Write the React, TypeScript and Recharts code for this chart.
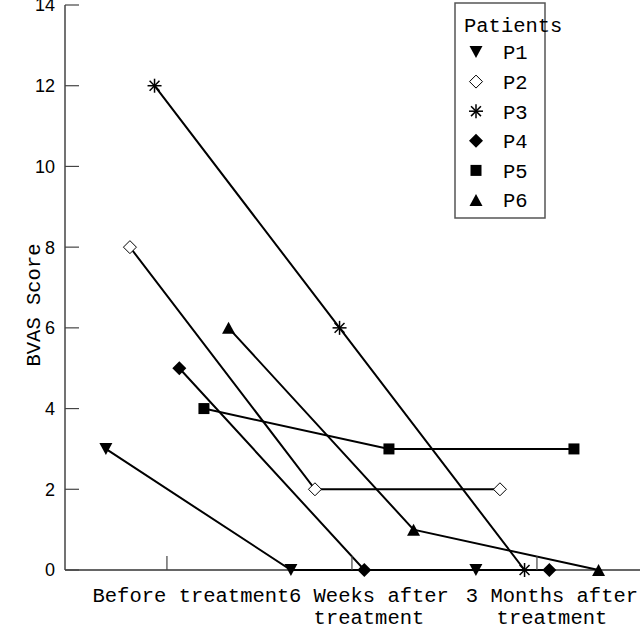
import React from 'react';
import { ScatterChart, Scatter, XAxis, YAxis, Legend } from 'recharts';

const timepoints = [1, 2, 3];
const tickLabels = [["Before treatment"], ["6 Weeks after", "treatment"], ["3 Months after", "treatment"]];
const yTicks = [0, 2, 4, 6, 8, 10, 12, 14];
const patients = ['P1', 'P2', 'P3', 'P4', 'P5', 'P6'];
const patientOffsets = [-0.33, -0.2, -0.067, 0.067, 0.2, 0.333];
const p1 = [3, 0, 0];
const p2 = [8, 2, 2];
const p3 = [12, 6, 0];
const p4 = [5, 0, 0];
const p5 = [4, 3, 3];
const p6 = [6, 1, 0];
const patientValues = [p1, p2, p3, p4, p5, p6];
const markerTypes = ['triDown', 'openDiamond', 'asterisk', 'diamond', 'square', 'triUp'];

const series = patients.map((name, i) => ({
  name,
  marker: markerTypes[i],
  data: timepoints.map((t, j) => ({ x: t + patientOffsets[i], y: patientValues[i][j] })),
}));

const MONO = '"Liberation Mono", "DejaVu Sans Mono", monospace';
const SANS = '"Liberation Sans", Arial, sans-serif';

function Marker({ type, cx, cy }: { type: string; cx: number; cy: number }) {
  switch (type) {
    case 'triDown':
      return <polygon points={`${cx - 6.5},${cy - 6} ${cx + 6.5},${cy - 6} ${cx},${cy + 6}`} fill="#000" />;
    case 'triUp':
      return <polygon points={`${cx - 6.5},${cy + 6} ${cx + 6.5},${cy + 6} ${cx},${cy - 6}`} fill="#000" />;
    case 'openDiamond':
      return <polygon points={`${cx},${cy - 6.5} ${cx + 6.5},${cy} ${cx},${cy + 6.5} ${cx - 6.5},${cy}`} fill="#fff" stroke="#000" strokeWidth={1} />;
    case 'diamond':
      return <polygon points={`${cx},${cy - 7} ${cx + 7},${cy} ${cx},${cy + 7} ${cx - 7},${cy}`} fill="#000" />;
    case 'square':
      return <rect x={cx - 5.5} y={cy - 5.5} width={11} height={11} fill="#000" />;
    case 'asterisk': {
      const r = 7;
      const d = r * 0.7071;
      return (
        <g stroke="#000" strokeWidth={1.5}>
          <line x1={cx} y1={cy - r} x2={cx} y2={cy + r} />
          <line x1={cx - r} y1={cy} x2={cx + r} y2={cy} />
          <line x1={cx - d} y1={cy - d} x2={cx + d} y2={cy + d} />
          <line x1={cx - d} y1={cy + d} x2={cx + d} y2={cy - d} />
        </g>
      );
    }
    default:
      return null;
  }
}

const labelShift = [24, 17, 15];

function XTick(props: any) {
  const { x, y, index } = props;
  const lines = tickLabels[index] || [];
  return (
    <g>
      <line x1={x} y1={y} x2={x} y2={y - 14} stroke="#444" strokeWidth={1.2} />
      {lines.map((ln, k) => (
        <text key={k} x={x + labelShift[index]} y={y + 32 + k * 22} textAnchor="middle" fontFamily={MONO} fontSize={20.5} fill="#000">
          {ln}
        </text>
      ))}
    </g>
  );
}

function YTick(props: any) {
  const { x, y, payload } = props;
  return (
    <g>
      <line x1={x} y1={y} x2={x + 14} y2={y} stroke="#444" strokeWidth={1.2} />
      <text x={x - 10} y={y} dy="0.36em" textAnchor="end" fontFamily={SANS} fontSize={18} fill="#000">
        {payload.value}
      </text>
    </g>
  );
}

function LegendContent() {
  return (
    <svg width={140} height={222} style={{ overflow: 'visible', display: 'block' }}>
      <rect x={1} y={1} width={90} height={215} fill="#fff" stroke="#555" strokeWidth={1.5} />
      <text x={10} y={30} fontFamily={MONO} fontSize={20.5} fill="#000">Patients</text>
      {series.map((s, i) => {
        const cy = 50 + i * 29.6;
        return (
          <g key={s.name}>
            <Marker type={s.marker} cx={22} cy={cy} />
            <text x={49} y={cy} dy="0.36em" fontFamily={MONO} fontSize={20.5} fill="#000">{s.name}</text>
          </g>
        );
      })}
    </svg>
  );
}

export default function App() {
  return (
    <div style={{ position: 'absolute', left: 0, top: 0, width: 640, height: 627, background: '#fff' }}>
      <ScatterChart width={640} height={627} margin={{ top: 5, right: 0, bottom: 0, left: 0 }}>
        <XAxis
          type="number"
          dataKey="x"
          domain={[0.449, 3.557]}
          ticks={timepoints}
          allowDataOverflow
          height={57}
          tickSize={0}
          tickMargin={0}
          tickLine={false}
          axisLine={{ stroke: '#333', strokeWidth: 1.5 }}
          tick={<XTick />}
          interval={0}
        />
        <YAxis
          type="number"
          dataKey="y"
          domain={[0, 14]}
          ticks={yTicks}
          width={65}
          tickSize={0}
          tickMargin={0}
          tickLine={false}
          axisLine={{ stroke: '#444', strokeWidth: 1.5 }}
          tick={<YTick />}
          interval={0}
          label={{
            value: 'BVAS Score',
            angle: -90,
            position: 'insideLeft',
            offset: 0,
            content: () => (
              <text x={33} y={305} transform="rotate(-90 33 305)" textAnchor="middle" dy="0.36em" fontFamily={MONO} fontSize={20.5} fill="#000">
                BVAS Score
              </text>
            ),
          }}
        />
        <Legend
          layout="vertical"
          align="center"
          verticalAlign="middle"
          content={<LegendContent />}
          wrapperStyle={{ position: 'absolute', left: 454, top: 2, width: 140, height: 222 }}
        />
        {series.map((s) => (
          <Scatter
            key={s.name}
            name={s.name}
            data={s.data}
            isAnimationActive={false}
            line={{ stroke: '#000', strokeWidth: 2 }}
            shape={(p: any) => <Marker type={s.marker} cx={p.cx} cy={p.cy} />}
          />
        ))}
      </ScatterChart>
    </div>
  );
}
